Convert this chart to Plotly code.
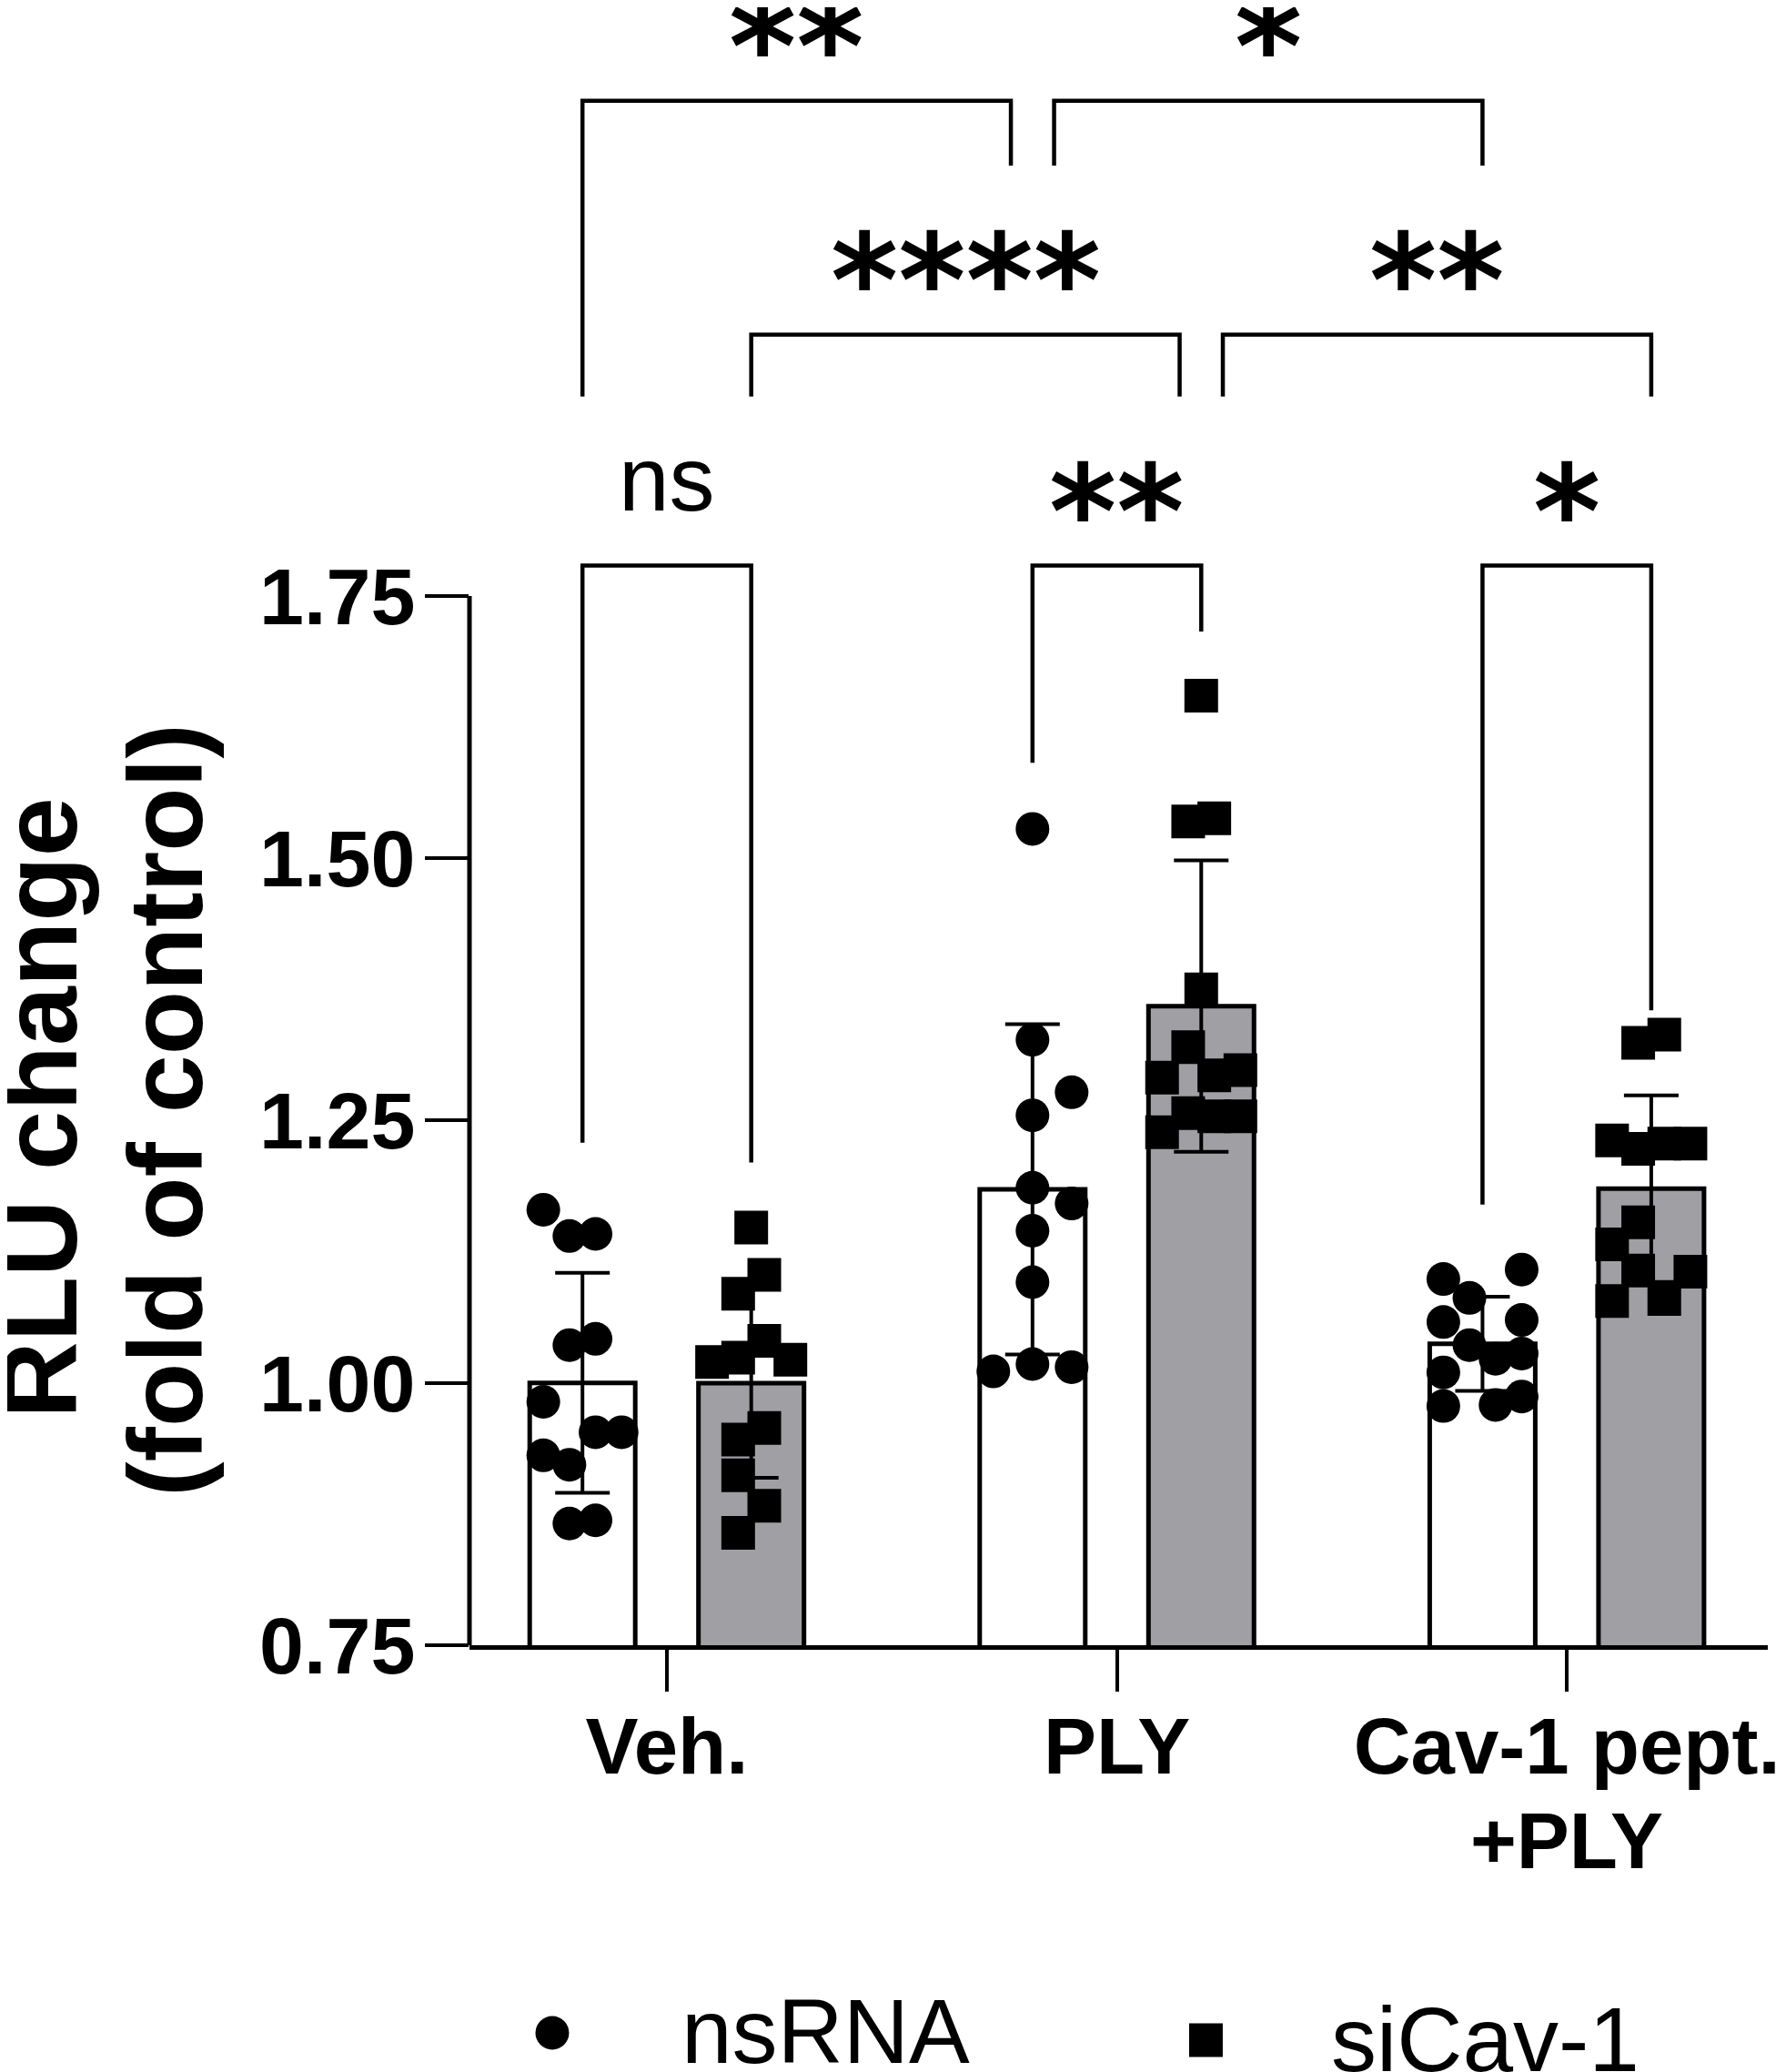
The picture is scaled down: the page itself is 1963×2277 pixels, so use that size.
import numpy as np
import plotly.graph_objects as go

# groups on the x axis and the two treatments
groups = ["Veh.", "PLY", "Cav-1 pept."]
group_second_line = ["", "", "+PLY"]
series_names = ["nsRNA", "siCav-1"]

# RLU change (fold of control), one list per bar
veh_ns = [1.165, 1.140, 1.142, 1.036, 1.042, 0.982, 0.953, 0.953, 0.931, 0.922, 0.866, 0.869]
veh_si = [1.148, 1.103, 1.085, 1.040, 1.020, 1.024, 1.022, 0.957, 0.946, 0.912, 0.883, 0.857]
ply_ns = [1.528, 1.327, 1.277, 1.255, 1.186, 1.171, 1.145, 1.096, 1.011, 1.018, 1.015]
ply_si = [1.655, 1.535, 1.538, 1.375, 1.320, 1.291, 1.298, 1.293, 1.257, 1.254, 1.254, 1.239]
cav_ns = [1.099, 1.081, 1.108, 1.058, 1.060, 1.036, 1.023, 1.028, 1.010, 0.978, 0.979, 0.987]
cav_si = [1.332, 1.324, 1.231, 1.223, 1.228, 1.228, 1.153, 1.132, 1.107, 1.106, 1.078, 1.080]

# scatter column of each dot inside its bar
veh_ns_col = [-1.5, -0.5, 0.5, -0.5, 0.5, -1.5, 0.5, 1.5, -1.5, -0.5, -0.5, 0.5]
veh_si_col = [0, 0.5, -0.5, 0.5, -1.5, -0.5, 1.5, 0.5, -0.5, -0.5, 0.5, -0.5]
ply_ns_col = [0, 0, 1.5, 0, 0, 1.5, 0, 0, -1.5, 0, 1.5]
ply_si_col = [0, -0.5, 0.5, 0, -0.5, -1.5, 1.5, 0.5, -0.5, 0.5, 1.5, -1.5]
cav_ns_col = [-1.5, -0.5, 1.5, -1.5, 1.5, -0.5, 0.5, 1.5, -1.5, -1.5, 0.5, 1.5]
cav_si_col = [0.5, -0.5, -1.5, -0.5, 1.5, 0.5, -0.5, -1.5, -0.5, 1.5, -1.5, 0.5]

# comparisons: (group, series) left, (group, series) right, label, tier
comparisons = [
    ((0, 0), (0, 1), "ns", 0),
    ((1, 0), (1, 1), "**", 0),
    ((2, 0), (2, 1), "*", 0),
    ((0, 1), (1, 1), "****", 1),
    ((1, 1), (2, 1), "**", 1),
    ((0, 0), (1, 0), "**", 2),
    ((1, 0), (2, 0), "*", 2),
]

# bracket geometry
tier_y = [1.779, 1.999, 2.222]
leg_ends = [(1.229, 1.210), (1.591, 1.716), (1.170, 1.355),
            (1.940, 1.940), (1.940, 1.940), (1.940, 2.160), (2.160, 2.160)]

values = [[veh_ns, ply_ns, cav_ns], [veh_si, ply_si, cav_si]]
columns = [[veh_ns_col, ply_ns_col, cav_ns_col], [veh_si_col, ply_si_col, cav_si_col]]

OFFSET = 0.1875
BAR_W = 0.2345
JIT = 0.058
fills = ["white", "#a09fa4"]
symbols = ["circle", "square"]

FONT = "Liberation Sans"
STAR_FONT = "DejaVu Sans"


def bar_x(g, s):
    return g + (OFFSET if s else -OFFSET)


fig = go.Figure()

for s in range(2):
    xs = [bar_x(g, s) for g in range(3)]
    means = [np.mean(v) for v in values[s]]
    sds = [np.std(v, ddof=1) for v in values[s]]
    fig.add_trace(go.Bar(
        x=xs, y=means, width=BAR_W, name=series_names[s],
        marker=dict(color=fills[s], line=dict(color="black", width=5)),
        error_y=dict(type="data", array=sds, color="black", thickness=4, width=30),
        showlegend=False,
    ))

for s in range(2):
    px_, py_ = [], []
    for g in range(3):
        for v, c in zip(values[s][g], columns[s][g]):
            px_.append(bar_x(g, s) + c * JIT)
            py_.append(v)
    fig.add_trace(go.Scatter(
        x=px_, y=py_, mode="markers", name=series_names[s],
        marker=dict(symbol=symbols[s], size=37, color="black", line=dict(width=0)),
        showlegend=False, cliponaxis=False,
    ))

# significance brackets
shared = set()
for a, b, lab, t in comparisons:
    for a2, b2, lab2, t2 in comparisons:
        if t == t2 and b == a2:
            shared.add((t, b))
for (a, b, lab, t), (lo_a, lo_b) in zip(comparisons, leg_ends):
    xa = bar_x(*a)
    xb = bar_x(*b)
    if (t, a) in shared:
        xa += 0.048
    if (t, b) in shared:
        xb -= 0.048
    top = tier_y[t]
    fig.add_shape(type="path", xref="x", yref="y",
                  path=f"M {xa},{lo_a} L {xa},{top} L {xb},{top} L {xb},{lo_b}",
                  line=dict(color="black", width=4.5))
    if lab == "ns":
        fig.add_annotation(x=(xa + xb) / 2, y=top + 0.075, text=lab, showarrow=False,
                           xanchor="center", yanchor="middle", yshift=9,
                           font=dict(family=FONT, size=100, color="black"))
    else:
        fig.add_annotation(x=(xa + xb) / 2, y=top + 0.073, text=lab, showarrow=False,
                           xanchor="center", yanchor="middle", yshift=-26,
                           font=dict(family=STAR_FONT, size=142, color="black", weight="bold"))

# y axis spine only from 0.75 to 1.75
fig.add_shape(type="line", xref="paper", yref="y", x0=0, x1=0, y0=0.75, y1=1.75,
              line=dict(color="black", width=5))

# y axis title, two lines
fig.add_annotation(xref="paper", yref="y", x=-0.3313, y=1.262, text="RLU change",
                   textangle=-90, showarrow=False, xanchor="center", yanchor="middle",
                   font=dict(family=FONT, size=117, color="black", weight="bold"))
fig.add_annotation(xref="paper", yref="y", x=-0.2342, y=1.260, text="(fold of control)",
                   textangle=-90, showarrow=False, xanchor="center", yanchor="middle",
                   font=dict(family=FONT, size=115, color="black", weight="bold"))

# second line of the third group label
for g, line2 in enumerate(group_second_line):
    if line2:
        fig.add_annotation(xref="x", yref="paper", x=g, y=-0.1189, text=line2,
                           showarrow=False, xanchor="center", yanchor="middle",
                           font=dict(family=FONT, size=87, color="black", weight="bold"))

# legend drawn by hand below the axis
fig.add_shape(type="circle", xref="paper", yref="paper", x0=0.0508, x1=0.0767,
              y0=-0.2469, y1=-0.2264, fillcolor="black", line=dict(width=0))
fig.add_shape(type="rect", xref="paper", yref="paper", x0=0.5543, x1=0.5802,
              y0=-0.2514, y1=-0.2308, fillcolor="black", line=dict(width=0))
for xx, yy, name in [(0.1619, -0.2356, series_names[0]), (0.6622, -0.2406, series_names[1])]:
    fig.add_annotation(xref="paper", yref="paper", x=xx, y=yy, text=name, showarrow=False,
                       xanchor="left", yanchor="middle",
                       font=dict(family=FONT, size=100, color="black"))

fig.update_layout(
    width=1963, height=2277,
    margin=dict(l=508, r=28, t=0, b=477),
    paper_bgcolor="white", plot_bgcolor="white",
    barmode="overlay",
    xaxis=dict(range=[-0.4386, 2.4465], tickvals=[0, 1, 2], ticktext=groups,
               showline=True, linecolor="black", linewidth=5,
               ticks="outside", ticklen=46, tickwidth=4, tickcolor="black",
               ticklabelstandoff=-14,
               showgrid=False, zeroline=False,
               tickfont=dict(family=FONT, size=87, color="black", weight="bold")),
    yaxis=dict(range=[0.75, 2.311], tickvals=[0.75, 1.0, 1.25, 1.5, 1.75],
               ticktext=["0.75", "1.00", "1.25", "1.50", "1.75"],
               showline=False, ticks="outside", ticklen=48, tickwidth=4, tickcolor="black",
               ticklabelstandoff=-7,
               showgrid=False, zeroline=False,
               tickfont=dict(family=FONT, size=88, color="black", weight="bold")),
)

fig.write_html("out.html")
